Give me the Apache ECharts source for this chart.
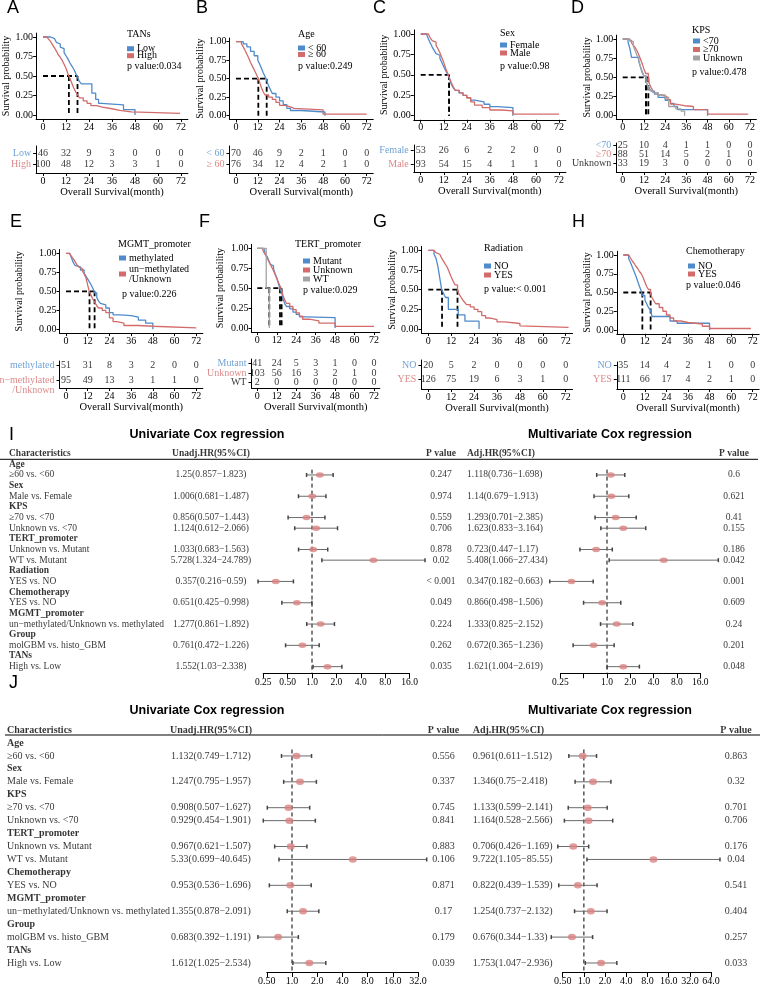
<!DOCTYPE html>
<html><head><meta charset="utf-8">
<script src="https://cdn.jsdelivr.net/npm/echarts@6/dist/echarts.min.js"></script>
<style>html,body{margin:0;padding:0;background:#fff}#c{width:765px;height:991px}</style>
</head><body><div id="c"></div>
<script>
// ================= DATA =================
const months = [0, 12, 24, 36, 48, 60, 72];
const survTicks = [0, 0.25, 0.5, 0.75, 1];

// ---- A: TANs ----
const A_groups = ['Low', 'High'];
const A_pvalue = 'p value:0.034';
const A_Low = [[0,1],[4,0.98],[6,0.96],[7,0.93],[8,0.91],[9,0.87],[10,0.85],[11,0.80],[12,0.76],[13,0.72],[14,0.67],[15,0.63],[16,0.59],[17,0.54],[18,0.48],[19,0.43],[20,0.40],[25.5,0.28],[27.5,0.20],[29,0.15],[30.5,0.13],[42,0.07],[48,0]];
const A_High = [[0,1],[2,0.99],[3,0.97],[4,0.94],[5,0.90],[6,0.86],[7,0.82],[8,0.77],[9,0.74],[10,0.70],[11,0.65],[12,0.60],[13,0.53],[14,0.47],[15,0.41],[16,0.35],[17,0.30],[18,0.26],[19,0.22],[21,0.18],[23,0.15],[25,0.12],[28,0.10],[31,0.08],[36,0.06],[40,0.04],[46,0.02],[71.5,0.02]];
const A_medians = [18, 13.5];
const A_risk = [[46,32,9,3,0,0,0],[100,48,12,3,3,1,0]];

// ---- B: Age ----
const B_groups = ['< 60', '≥ 60'];
const B_pvalue = 'p value:0.249';
const B_lt60 = [[0,1],[4,0.97],[6,0.93],[8,0.87],[10,0.81],[12,0.75],[13,0.70],[14,0.64],[15,0.58],[16,0.53],[17,0.47],[18,0.40],[19,0.35],[20,0.30],[22,0.25],[24,0.20],[26,0.15],[28,0.10],[30,0.07],[36,0.05],[49,0]];
const B_ge60 = [[0,1],[3,0.97],[4,0.93],[5,0.88],[6,0.83],[7,0.78],[8,0.72],[9,0.67],[10,0.62],[11,0.57],[12,0.52],[13,0.45],[14,0.38],[15,0.32],[16,0.28],[18,0.25],[20,0.22],[22,0.18],[24,0.14],[27,0.12],[30,0.10],[32,0.08],[48,0.02],[72,0.02]];
const B_medians = [16.9, 12.3];
const B_risk = [[70,46,9,2,1,0,0],[76,34,12,4,2,1,0]];

// ---- C: Sex ----
const C_groups = ['Female', 'Male'];
const C_pvalue = 'p value:0.98';
const C_Female = [[0,1],[3,0.98],[4,0.94],[5,0.89],[6,0.84],[7,0.80],[8,0.76],[9,0.74],[10,0.70],[11,0.65],[12,0.60],[13,0.55],[14,0.51],[15,0.45],[16,0.38],[17,0.34],[18,0.31],[20,0.28],[22,0.25],[24,0.22],[26,0.19],[28,0.17],[33,0.14],[36,0.11],[40,0.10],[48,0]];
const C_Male = [[0,1],[4,0.98],[5,0.95],[6,0.92],[7,0.90],[8,0.86],[9,0.82],[10,0.77],[11,0.71],[12,0.65],[13,0.58],[14,0.52],[15,0.46],[16,0.40],[17,0.35],[18,0.31],[20,0.28],[22,0.25],[24,0.22],[26,0.17],[28,0.13],[32,0.10],[36,0.07],[42,0.06],[48,0.02],[72,0.02]];
const C_medians = [14.8, 14.8];
const C_risk = [[53,26,6,2,2,0,0],[93,54,15,4,1,1,0]];

// ---- D: KPS ----
const D_groups = ['<70', '≥70', 'Unknown'];
const D_pvalue = 'p value:0.478';
const D_lt70 = [[0,1],[3,0.96],[4,0.88],[5,0.76],[9,0.72],[10,0.64],[11,0.56],[12,0.52],[13.2,0.44],[14,0.40],[15,0.36],[16,0.32],[18,0.28],[20,0.24],[24,0.20],[27,0.16],[29,0.12],[31,0.08],[48,0]];
const D_ge70 = [[0,1],[3,0.98],[5,0.95],[6,0.92],[7,0.89],[8,0.85],[9,0.80],[10,0.74],[11,0.68],[12,0.61],[13,0.55],[14.5,0.48],[15,0.42],[16,0.37],[17,0.33],[18,0.30],[20,0.27],[22,0.25],[25,0.21],[27,0.15],[30,0.13],[35,0.12],[40,0.08],[48,0.02],[71,0.02]];
const D_Unknown = [[0,1],[4,0.97],[6,0.91],[7,0.85],[8,0.79],[9,0.73],[10,0.64],[11,0.58],[12,0.52],[13.2,0.45],[14,0.39],[15,0.33],[17,0.30],[20,0.27],[24,0.24],[26,0.12],[30,0.09],[33,0.06],[35,0]];
const D_medians = [13.2, 14.5, 13.2];
const D_risk = [[25,10,4,1,1,0,0],[88,51,14,5,2,1,0],[33,19,3,0,0,0,0]];

// ---- E: MGMT_promoter ----
const E_groups = ['methylated', 'un−methylated\n/Unknown'];
const E_pvalue = 'p value:0.226';
const E_meth = [[0,1],[2,0.98],[3,0.94],[4,0.88],[5,0.84],[6,0.82],[8,0.78],[10,0.74],[11,0.70],[12,0.66],[13,0.62],[14,0.58],[15,0.53],[15.8,0.48],[17,0.42],[18,0.37],[19,0.34],[20,0.32],[22,0.28],[24,0.22],[26,0.19],[30,0.18],[36,0.16],[40,0.12],[44,0.08],[48,0]];
const E_unmeth = [[0,1],[2,0.98],[3,0.96],[4,0.93],[5,0.89],[6,0.85],[7,0.82],[8,0.80],[9,0.77],[10,0.73],[11,0.68],[12,0.58],[13,0.49],[14,0.44],[15,0.39],[16,0.35],[17,0.31],[18,0.28],[20,0.25],[22,0.22],[24,0.15],[26,0.10],[28,0.08],[32,0.05],[40,0.04],[48,0.02],[72,0.02]];
const E_medians = [15.8, 13];
const E_risk = [[51,31,8,3,2,0,0],[95,49,13,3,1,1,0]];

// ---- F: TERT_promoter ----
const F_groups = ['Mutant', 'Unknown', 'WT'];
const F_pvalue = 'p value:0.029';
const F_Mutant = [[0,1],[4,0.98],[5,0.93],[6,0.90],[7,0.85],[8,0.80],[9,0.78],[10,0.74],[11,0.68],[12,0.63],[13,0.56],[14,0.49],[15,0.44],[16,0.36],[17,0.30],[18,0.27],[20,0.24],[22,0.20],[24,0.17],[26,0.14],[30,0.13],[48,0]];
const F_Unknown = [[0,1],[3,0.98],[4,0.95],[5,0.92],[6,0.88],[7,0.84],[8,0.80],[9,0.76],[10,0.72],[11,0.67],[12,0.62],[13,0.57],[14,0.53],[15,0.47],[16,0.40],[17,0.35],[18,0.31],[20,0.27],[22,0.23],[24,0.19],[26,0.15],[28,0.11],[32,0.09],[38,0.06],[48,0.02],[72,0.02]];
const F_WT = [[0,1],[5.5,0.5],[7.4,0]];
const F_medians = [14, 15, 7.4];
const F_risk = [[41,24,5,3,1,0,0],[103,56,16,3,2,1,0],[2,0,0,0,0,0,0]];

// ---- G: Radiation ----
const G_groups = ['NO', 'YES'];
const G_pvalue = 'p value:< 0.001';
const G_NO = [[0,1],[3,0.95],[4,0.90],[5,0.80],[6,0.65],[7,0.50],[8,0.45],[9,0.40],[10.5,0.25],[15.7,0.18],[19.2,0.10],[26.6,0]];
const G_YES = [[0,1],[3,0.99],[4,0.97],[5,0.95],[6,0.93],[7,0.90],[8,0.86],[9,0.82],[10,0.78],[11,0.72],[12,0.66],[13,0.61],[14,0.56],[15.3,0.49],[16,0.45],[17,0.41],[18,0.37],[19,0.34],[20,0.31],[22,0.28],[24,0.25],[26,0.22],[28,0.17],[30,0.14],[32,0.12],[36,0.09],[40,0.07],[48,0.04],[49,0.02],[73.5,0.02]];
const G_medians = [7.2, 15.3];
const G_risk = [[20,5,2,0,0,0,0],[126,75,19,6,3,1,0]];

// ---- H: Chemotherapy ----
const H_groups = ['NO', 'YES'];
const H_pvalue = 'p value:0.046';
const H_NO = [[0,1],[3,0.95],[4,0.90],[5,0.84],[6,0.78],[7,0.72],[8,0.65],[9,0.58],[10,0.52],[10.6,0.46],[12,0.40],[13,0.35],[14,0.30],[15,0.27],[16,0.18],[26,0.12],[30,0.09],[48,0]];
const H_YES = [[0,1],[3,0.98],[4,0.96],[5,0.92],[6,0.89],[7,0.85],[8,0.82],[9,0.78],[10,0.75],[11,0.70],[12,0.64],[13,0.58],[14,0.54],[15.2,0.48],[16,0.43],[17,0.39],[18,0.35],[20,0.30],[22,0.25],[24,0.20],[26,0.16],[28,0.12],[32,0.10],[36,0.08],[44,0.05],[48,0.02],[71,0.02]];
const H_medians = [10.6, 15.2];
const H_risk = [[35,14,4,2,1,0,0],[111,66,17,4,2,1,0]];

// ---- I: Cox regression ----
const I_rows = ['Age','≥60 vs. <60','Sex','Male vs. Female','KPS','≥70 vs. <70','Unknown vs. <70','TERT_promoter','Unknown vs. Mutant','WT vs. Mutant','Radiation','YES vs. NO','Chemotherapy','YES vs. NO','MGMT_promoter','un−methylated/Unknown vs. methylated','Group','molGBM vs. histo_GBM','TANs','High vs. Low'];
const I_isGroup = [1,0,1,0,1,0,0,1,0,0,1,0,1,0,1,0,1,0,1,0];
const I_uniHR = [null,1.25,null,1.006,null,0.856,1.124,null,1.033,5.728,null,0.357,null,0.651,null,1.277,null,0.761,null,1.552];
const I_uniLo = [null,0.857,null,0.681,null,0.507,0.612,null,0.683,1.324,null,0.216,null,0.425,null,0.861,null,0.472,null,1.03];
const I_uniHi = [null,1.823,null,1.487,null,1.443,2.066,null,1.563,24.789,null,0.59,null,0.998,null,1.892,null,1.226,null,2.338];
const I_uniP = ['','0.247','','0.974','','0.559','0.706','','0.878','0.02','','< 0.001','','0.049','','0.224','','0.262','','0.035'];
const I_mulHR = [null,1.118,null,1.14,null,1.293,1.623,null,0.723,5.408,null,0.347,null,0.866,null,1.333,null,0.672,null,1.621];
const I_mulLo = [null,0.736,null,0.679,null,0.701,0.833,null,0.447,1.066,null,0.182,null,0.498,null,0.825,null,0.365,null,1.004];
const I_mulHi = [null,1.698,null,1.913,null,2.385,3.164,null,1.17,27.434,null,0.663,null,1.506,null,2.152,null,1.236,null,2.619];
const I_mulP = ['','0.6','','0.621','','0.41','0.155','','0.186','0.042','','0.001','','0.609','','0.24','','0.201','','0.048'];
const I_uniTicks = [0.25,0.5,1,2,4,8,16];
const I_mulTicks = [0.25,0.5,1,2,4,8,16];

// ---- J: Cox regression ----
const J_rows = ['Age','≥60 vs. <60','Sex','Male vs. Female','KPS','≥70 vs. <70','Unknown vs. <70','TERT_promoter','Unknown vs. Mutant','WT vs. Mutant','Chemotherapy','YES vs. NO','MGMT_promoter','un−methylated/Unknown vs. methylated','Group','molGBM vs. histo_GBM','TANs','High vs. Low'];
const J_isGroup = [1,0,1,0,1,0,0,1,0,0,1,0,1,0,1,0,1,0];
const J_uniHR = [null,1.132,null,1.247,null,0.908,0.929,null,0.967,5.33,null,0.953,null,1.355,null,0.683,null,1.612];
const J_uniLo = [null,0.749,null,0.795,null,0.507,0.454,null,0.621,0.699,null,0.536,null,0.878,null,0.392,null,1.025];
const J_uniHi = [null,1.712,null,1.957,null,1.627,1.901,null,1.507,40.645,null,1.696,null,2.091,null,1.191,null,2.534];
const J_uniP = ['','0.556','','0.337','','0.745','0.841','','0.883','0.106','','0.871','','0.17','','0.179','','0.039'];
const J_mulHR = [null,0.961,null,1.346,null,1.133,1.164,null,0.706,9.722,null,0.822,null,1.254,null,0.676,null,1.753];
const J_mulLo = [null,0.611,null,0.75,null,0.599,0.528,null,0.426,1.105,null,0.439,null,0.737,null,0.344,null,1.047];
const J_mulHi = [null,1.512,null,2.418,null,2.141,2.566,null,1.169,85.55,null,1.539,null,2.132,null,1.33,null,2.936];
const J_mulP = ['','0.863','','0.32','','0.701','0.706','','0.176','0.04','','0.541','','0.404','','0.257','','0.033'];
const J_uniTicks = [0.5,1,2,4,8,16,32];
const J_mulTicks = [0.5,1,2,4,8,16,32,64];

// ================= STYLE / LAYOUT =================
const BLUE = '#4F8BCB', RED = '#D46B6B', GREY = '#A3A3A3', DOT = '#D98282', BAR = '#6A6A6A';
const SERIF = '"Liberation Serif", "Times New Roman", serif';
const SANS = '"Liberation Sans", Arial, sans-serif';

const option = { animation: false, backgroundColor: '#fff', grid: [], xAxis: [], yAxis: [], series: [], legend: [], title: [], graphic: [] };

function addGrid(rect, xa, ya) {
  const gi = option.grid.length;
  option.grid.push(Object.assign({ show: false, containLabel: false }, rect));
  option.xAxis.push(Object.assign({ gridIndex: gi }, xa));
  option.yAxis.push(Object.assign({ gridIndex: gi }, ya));
  return gi;
}
function txt(text, x, y, o) {
  o = o || {};
  const fs = o.size || 10;
  option.title.push({ text, left: x, top: y, padding: 0, itemGap: 0,
    textAlign: o.align || 'left', textVerticalAlign: 'middle',
    textStyle: { fontFamily: o.family || SERIF, fontSize: fs, fontWeight: o.weight || 'normal', color: o.color || '#000', lineHeight: fs } });
}
const axLine = { show: true, onZero: false, lineStyle: { color: '#000', width: 1 } };

function kmPanel(P, L) {
  const s = (L.x72 - L.x0) / 72;
  const left = L.x0 - 3.6 * s, width = 79.2 * s;
  const u = L.y0 - L.y1;
  const top = L.y1 - 0.05 * u, height = 1.1 * u;
  const g = addGrid({ left, top, width, height },
    { type: 'value', position: 'bottom', min: -3.6, max: 75.6, axisLine: axLine, splitLine: { show: false },
      axisTick: { show: true, length: 3, customValues: months, lineStyle: { color: '#000' } },
      axisLabel: { customValues: months, color: '#000', fontFamily: SERIF, fontSize: 10, margin: 3 } },
    { type: 'value', position: 'left', min: -0.05, max: 1.05, axisLine: axLine, splitLine: { show: false },
      axisTick: { show: true, length: 3, customValues: survTicks, lineStyle: { color: '#000' } },
      axisLabel: { customValues: survTicks, formatter: v => v.toFixed(2), color: '#000', fontFamily: SERIF, fontSize: 10, margin: 3 },
      name: 'Survival probability', nameLocation: 'middle', nameRotate: 90, nameGap: L.nameOff - 5,
      nameTextStyle: { fontFamily: SERIF, fontSize: 10, color: '#000' } });
  const mmax = Math.max.apply(null, P.medians);
  option.series.push({ type: 'line', xAxisIndex: g, yAxisIndex: g, data: [[0, 0.5], [mmax, 0.5]], symbol: 'none', silent: true,
    lineStyle: { color: '#000', width: 1.8, type: [5, 3] }, z: 2 });
  P.medians.forEach(m => option.series.push({ type: 'line', xAxisIndex: g, yAxisIndex: g, data: [[m, 0.5], [m, 0]], symbol: 'none', silent: true,
    lineStyle: { color: '#000', width: 1.8, type: [5, 3] }, z: 2 }));
  P.curves.forEach((c, i) => option.series.push({ type: 'line', name: P.groups[i] + '|' + P.id, xAxisIndex: g, yAxisIndex: g,
    data: c, step: 'end', symbol: 'none', showSymbol: false, lineStyle: { color: P.colors[i], width: 1.3 }, itemStyle: { color: P.colors[i] }, z: 3 }));
  // risk table
  const n = P.groups.length, rows = L.rows;
  const d = (rows[n - 1] - rows[0]) / (n - 1);
  const ymin = 1 - (rows[0] - L.rtTop) / d, ymax = n + (L.rtBottom - rows[n - 1]) / d;
  const idx = P.groups.map((_, i) => i + 1);
  const rt = addGrid({ left, top: L.rtTop, width, height: L.rtBottom - L.rtTop },
    { type: 'value', position: 'bottom', min: -3.6, max: 75.6, axisLine: axLine, splitLine: { show: false },
      axisTick: { show: true, length: 3, customValues: months, lineStyle: { color: '#000' } },
      axisLabel: { customValues: months, color: '#000', fontFamily: SERIF, fontSize: 10, margin: 3 },
      name: 'Overall Survival(month)', nameLocation: 'middle', nameGap: L.nameGapX,
      nameTextStyle: { fontFamily: SERIF, fontSize: 10.5, color: '#000' } },
    { type: 'value', position: 'left', inverse: true, min: ymin, max: ymax, axisLine: axLine, splitLine: { show: false },
      axisTick: { show: true, length: 3, customValues: idx, lineStyle: { color: '#000' } },
      axisLabel: { show: false } });
  const data = [];
  P.risk.forEach((row, i) => row.forEach((cnt, j) => data.push([months[j], i + 1, cnt])));
  option.series.push({ type: 'scatter', xAxisIndex: rt, yAxisIndex: rt, data, symbolSize: 0, silent: true,
    label: { show: true, position: 'inside', formatter: p => String(p.value[2]), color: '#000', fontFamily: SERIF, fontSize: 10 } });
  option.series.push({ type: 'scatter', xAxisIndex: rt, yAxisIndex: rt, symbolSize: 0, silent: true, clip: false,
    data: P.groups.map((gn, i) => {
      const lines = gn.split('\n').length;
      return { name: gn, value: [-3.6, i + 1], label: { color: P.labelColors[i], offset: [0, (lines - 1) * 5] } };
    }),
    label: { show: true, position: 'left', distance: 5, align: 'right', formatter: p => p.name, fontFamily: SERIF, fontSize: 10, lineHeight: 10 } });
  option.legend.push({ left: L.lx, top: L.items[0] - 5, orient: 'vertical', padding: 0, itemGap: L.lgap - 10,
    itemWidth: 7, itemHeight: 5, icon: 'rect', selectedMode: false,
    data: P.groups.map(gn => gn + '|' + P.id), formatter: nm => nm.split('|')[0],
    textStyle: { fontFamily: SERIF, fontSize: 10, lineHeight: 10, color: '#000', padding: [0, 0, 0, -2] } });
  txt(P.title, L.tx, L.ty, { size: 10 });
  txt(P.pvalue, L.px, L.py, { size: 10 });
  txt(P.id, L.letter[0], L.letter[1], { family: SANS, size: 18 });
}

const km = [
  { P: { id: 'A', title: 'TANs', pvalue: A_pvalue, groups: A_groups, curves: [A_Low, A_High], colors: [BLUE, RED], labelColors: [BLUE, RED], medians: A_medians, risk: A_risk },
    L: { x0: 43, x72: 181, y1: 37, y0: 115, rtTop: 146, rtBottom: 173, rows: [153, 164], nameOff: 27.7, nameGapX: 13,
         lx: 127, items: [48.7, 55.7], lgap: 7, tx: 127, ty: 34, px: 127, py: 66.7, letter: [7, 8] } },
  { P: { id: 'B', title: 'Age', pvalue: B_pvalue, groups: B_groups, curves: [B_lt60, B_ge60], colors: [BLUE, RED], labelColors: [BLUE, RED], medians: B_medians, risk: B_risk },
    L: { x0: 236, x72: 366.7, y1: 41.7, y0: 115.7, rtTop: 146, rtBottom: 173, rows: [153, 164], nameOff: 25.5, nameGapX: 13,
         lx: 298, items: [48, 54.5], lgap: 6.5, tx: 298, ty: 34.5, px: 298, py: 66.7, letter: [196, 8] } },
  { P: { id: 'C', title: 'Sex', pvalue: C_pvalue, groups: C_groups, curves: [C_Female, C_Male], colors: [BLUE, RED], labelColors: [BLUE, RED], medians: C_medians, risk: C_risk },
    L: { x0: 420.7, x72: 559, y1: 34, y0: 115.7, rtTop: 145, rtBottom: 172, rows: [150.7, 164], nameOff: 24.5, nameGapX: 13,
         lx: 500, items: [45, 53], lgap: 8, tx: 500, ty: 33, px: 500, py: 66, letter: [373, 8] } },
  { P: { id: 'D', title: 'KPS', pvalue: D_pvalue, groups: D_groups, curves: [D_lt70, D_ge70, D_Unknown], colors: [BLUE, RED, GREY], labelColors: [BLUE, RED, '#000'], medians: D_medians, risk: D_risk },
    L: { x0: 622.7, x72: 750, y1: 39, y0: 115.7, rtTop: 143, rtBottom: 172, rows: [145.7, 154.3, 163.3], nameOff: 27, nameGapX: 13,
         lx: 693, items: [41, 49.5, 58], lgap: 8.5, tx: 692, ty: 30, px: 692, py: 72, letter: [571, 8] } },
  { P: { id: 'E', title: 'MGMT_promoter', pvalue: E_pvalue, groups: E_groups, curves: [E_meth, E_unmeth], colors: [BLUE, RED], labelColors: [BLUE, RED], medians: E_medians, risk: E_risk },
    L: { x0: 66, x72: 196.3, y1: 253.3, y0: 329.3, rtTop: 361, rtBottom: 388, rows: [365.3, 380], nameOff: 40, nameGapX: 13,
         lx: 119, items: [258, 274], lgap: 11, tx: 118, ty: 244, px: 122, py: 294, letter: [10, 222] } },
  { P: { id: 'F', title: 'TERT_promoter', pvalue: F_pvalue, groups: F_groups, curves: [F_Mutant, F_Unknown, F_WT], colors: [BLUE, RED, GREY], labelColors: [BLUE, RED, '#000'], medians: F_medians, risk: F_risk },
    L: { x0: 257.3, x72: 374, y1: 248.3, y0: 328, rtTop: 359, rtBottom: 388, rows: [363.3, 373.3, 382.7], nameOff: 31, nameGapX: 13,
         lx: 303, items: [261, 270, 279], lgap: 9, tx: 295, ty: 244, px: 303, py: 290, letter: [199, 222] } },
  { P: { id: 'G', title: 'Radiation', pvalue: G_pvalue, groups: G_groups, curves: [G_NO, G_YES], colors: [BLUE, RED], labelColors: [BLUE, RED], medians: G_medians, risk: G_risk },
    L: { x0: 428.3, x72: 565.7, y1: 250.3, y0: 329, rtTop: 360, rtBottom: 389, rows: [365.7, 379.3], nameOff: 16, nameGapX: 13,
         lx: 484, items: [266, 275], lgap: 9, tx: 484, ty: 248, px: 484, py: 289, letter: [373, 222] } },
  { P: { id: 'H', title: 'Chemotherapy', pvalue: H_pvalue, groups: H_groups, curves: [H_NO, H_YES], colors: [BLUE, RED], labelColors: [BLUE, RED], medians: H_medians, risk: H_risk },
    L: { x0: 623.3, x72: 752.7, y1: 255, y0: 330, rtTop: 362, rtBottom: 389, rows: [365.7, 379.3], nameOff: 25, nameGapX: 13,
         lx: 688, items: [266, 274], lgap: 8, tx: 686, ty: 251, px: 686, py: 285, letter: [572, 222] } }
];
km.forEach(k => kmPanel(k.P, k.L));

// ================= FOREST =================
function fmtCI(hr, lo, hi) { return hr == null ? '' : hr + '(' + lo + '−' + hi + ')'; }
function textCol(top, height, ymin, ymax, x, align, items, fs) {
  const g = addGrid({ left: x - 1, top, width: 2, height },
    { type: 'value', min: 0, max: 1, show: false }, { type: 'value', inverse: true, min: ymin, max: ymax, show: false });
  option.series.push({ type: 'scatter', xAxisIndex: g, yAxisIndex: g, symbolSize: 0, silent: true,
    data: items.filter(it => it.text !== '').map(it => ({ name: it.text, value: [0.5, it.y], label: { fontWeight: it.bold ? 'bold' : 'normal' } })),
    label: { show: true, position: align === 'left' ? 'right' : 'inside', distance: 0, formatter: p => p.name,
      color: '#000', fontFamily: SERIF, fontSize: fs } });
}
function forestPlot(top, height, ymin, ymax, F, hr, lo, hi, fs, dot) {
  const left = F.one + Math.log2(F.ticks[0]) * F.d;
  const lmax = Math.log2(F.ticks[F.ticks.length - 1]);
  const width = (lmax - Math.log2(F.ticks[0])) * F.d;
  const lt = F.ticks.map(Math.log2);
  const g = addGrid({ left, top, width, height },
    { type: 'value', position: 'bottom', min: lt[0], max: lmax, axisLine: axLine, splitLine: { show: false },
      axisTick: { show: true, length: 5, customValues: lt, lineStyle: { color: '#000' } },
      axisLabel: { customValues: F.labelTicks.map(Math.log2), color: '#000', fontFamily: SERIF, fontSize: fs, margin: 4,
        formatter: v => { const x = Math.pow(2, v); return x < 1 ? x.toFixed(2) : x.toFixed(1); } } },
    { type: 'value', inverse: true, min: ymin, max: ymax, show: false });
  option.series.push({ type: 'line', xAxisIndex: g, yAxisIndex: g, data: [[0, 0.5], [0, ymax]], symbol: 'none', silent: true,
    lineStyle: { color: '#000', width: 1, type: [4, 3] }, z: 1 });
  const bars = [], pts = [];
  hr.forEach((h, i) => { if (h != null) { bars.push([Math.log2(lo[i]), Math.log2(hi[i]), i]); pts.push([Math.log2(h), i]); } });
  option.series.push({ type: 'custom', xAxisIndex: g, yAxisIndex: g, data: bars, silent: true, clip: false, z: 2,
    renderItem: (params, api) => {
      const a = api.coord([api.value(0), api.value(2)]), b = api.coord([api.value(1), api.value(2)]);
      const st = { stroke: BAR, lineWidth: 1 };
      return { type: 'group', children: [
        { type: 'line', shape: { x1: a[0], y1: a[1], x2: b[0], y2: b[1] }, style: st },
        { type: 'line', shape: { x1: a[0], y1: a[1] - 2, x2: a[0], y2: a[1] + 2 }, style: { stroke: '#444', lineWidth: 1.5 } },
        { type: 'line', shape: { x1: b[0], y1: b[1] - 2, x2: b[0], y2: b[1] + 2 }, style: { stroke: '#444', lineWidth: 1.5 } }] };
    } });
  option.series.push({ type: 'scatter', xAxisIndex: g, yAxisIndex: g, data: pts, symbol: 'circle', symbolSize: dot, silent: true,
    itemStyle: { color: DOT }, z: 3 });
}
function forestBlock(B) {
  const L = B.L;
  const ymin = -1.5, ymax = L.ymax;
  const top = L.y0 + ymin * L.dy, height = (ymax - ymin) * L.dy;
  const col = (x, align, header, texts, boldFn) => {
    const items = [{ y: -1, text: header, bold: true }];
    texts.forEach((t, i) => items.push({ y: i, text: t, bold: boldFn ? boldFn(i) : false }));
    textCol(top, height, ymin, ymax, x, align, items, L.fs);
  };
  col(L.cChar, 'left', 'Characteristics', B.rows, i => !!B.isGroup[i]);
  col(L.cUniHR, 'center', 'Unadj.HR(95%CI)', B.uniHR.map((h, i) => fmtCI(h, B.uniLo[i], B.uniHi[i])));
  col(L.cUniP, 'center', 'P value', B.uniP);
  col(L.cMulHR, 'left', 'Adj.HR(95%CI)', B.mulHR.map((h, i) => fmtCI(h, B.mulLo[i], B.mulHi[i])));
  col(L.cMulP, 'center', 'P value', B.mulP);
  forestPlot(top, height, ymin, ymax, L.fl, B.uniHR, B.uniLo, B.uniHi, L.fs, L.dot);
  forestPlot(top, height, ymin, ymax, L.fr, B.mulHR, B.mulLo, B.mulHi, L.fs, L.dot);
  option.graphic.push({ type: 'line', shape: { x1: L.hl[0], y1: L.hy, x2: L.hl[1], y2: L.hy }, style: { stroke: '#000', lineWidth: 1 }, silent: true });
  txt('Univariate Cox regression', 207, L.ty, { family: SANS, size: 12.5, weight: 'bold', align: 'center' });
  txt('Multivariate Cox regression', 610, L.ty, { family: SANS, size: 12.5, weight: 'bold', align: 'center' });
  txt(B.id, L.letter[0], L.letter[1], { family: SANS, size: 18 });
}
forestBlock({ id: 'I', rows: I_rows, isGroup: I_isGroup, uniHR: I_uniHR, uniLo: I_uniLo, uniHi: I_uniHi, uniP: I_uniP,
  mulHR: I_mulHR, mulLo: I_mulLo, mulHi: I_mulHi, mulP: I_mulP,
  L: { y0: 464.3, dy: 10.65, ymax: 19.62, fs: 9.5, dot: [8, 5.5], cChar: 9, cUniHR: 211, cUniP: 441, cMulHR: 467, cMulP: 734,
       fl: { one: 312, d: 24.4, ticks: I_uniTicks, labelTicks: I_uniTicks }, fr: { one: 607, d: 23.3, ticks: I_mulTicks, labelTicks: [0.25,1,2,4,8,16] },
       hl: [0, 758], hy: 459.3, ty: 435, letter: [9, 435] } });
forestBlock({ id: 'J', rows: J_rows, isGroup: J_isGroup, uniHR: J_uniHR, uniLo: J_uniLo, uniHi: J_uniHi, uniP: J_uniP,
  mulHR: J_mulHR, mulLo: J_mulLo, mulHi: J_mulHi, mulP: J_mulP,
  L: { y0: 743, dy: 12.94, ymax: 17.7, fs: 10, dot: [8, 6.5], cChar: 7, cUniHR: 211, cUniP: 443.5, cMulHR: 472.7, cMulP: 736,
       fl: { one: 292, d: 25.2, ticks: J_uniTicks, labelTicks: J_uniTicks }, fr: { one: 583.9, d: 21.2, ticks: J_mulTicks, labelTicks: J_mulTicks },
       hl: [5, 760], hy: 735, ty: 711, letter: [9, 683] } });

const chart = echarts.init(document.getElementById('c'), null, { width: 765, height: 991 });
chart.setOption(option);
</script></body></html>
